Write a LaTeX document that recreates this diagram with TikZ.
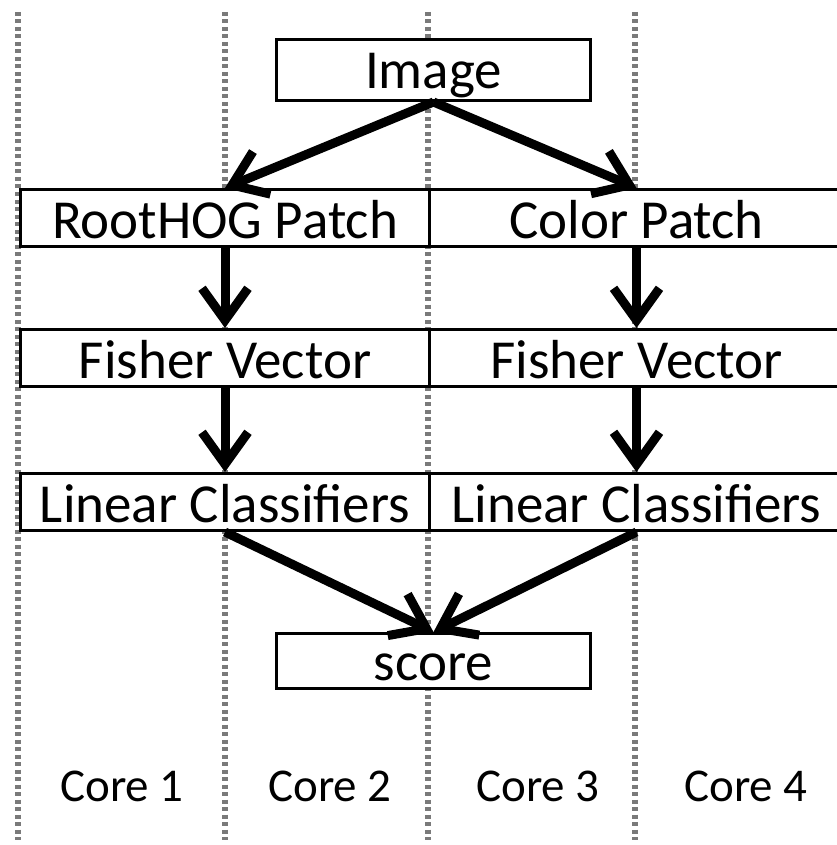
\documentclass[tikz,border=0pt]{standalone}
\usepackage{fontspec}
\setmainfont{Carlito}
\usetikzlibrary{arrows.meta}
\begin{document}
\begin{tikzpicture}[x=1pt,y=-1pt,
  stagebox/.style={draw=black, line width=3pt, fill=white, inner sep=0pt,
    minimum height=#1, anchor=north west},
  stagetext/.style={font=\fontsize{55}{66}\selectfont, inner sep=0pt, anchor=base},
  corelabel/.style={font=\fontsize{47}{56}\selectfont, inner sep=0pt, anchor=base},
  divider/.style={draw=black!52, line width=6.5pt, dash pattern=on 4pt off 3.5pt},
  flow/.style={draw=black, line width=9pt,
    -{Straight Barb[length=32pt, width=46pt, line width=9pt]}}]
\useasboundingbox (0,0) rectangle (836,845);
% core dividers
\foreach \x in {18,225,428,635}
  \draw[divider] (\x,12) -- (\x,840);
% stages
\node[stagebox=61pt, minimum width=314pt] (img) at (275,38) {};
\node[stagebox=57pt, minimum width=409pt] (rh) at (19,188) {};
\node[stagebox=57pt, minimum width=414pt] (cp) at (428,188) {};
\node[stagebox=57pt, minimum width=409pt] (fv1) at (19,328) {};
\node[stagebox=57pt, minimum width=414pt] (fv2) at (428,328) {};
\node[stagebox=57pt, minimum width=409pt] (lc1) at (19,472) {};
\node[stagebox=57pt, minimum width=414pt] (lc2) at (428,472) {};
\node[stagebox=55pt, minimum width=314pt] (score) at (275,632) {};
% stage captions, set on a baseline just above each box's lower edge
\node[stagetext] (timg) at ([yshift=13pt]img.south) {Image};
\foreach \n/\t in {rh/RootHOG Patch, cp/Color Patch, fv1/Fisher Vector,
                   fv2/Fisher Vector, lc1/Linear Classifiers, lc2/Linear Classifiers,
                   score/score}
  \node[stagetext] (t\n) at ([yshift=10pt]\n.south) {\t};
% data flow
\draw[flow] (img.south) -- (rh.north);
\draw[flow] (img.south) -- (cp.north);
\draw[flow] (rh.south) -- (fv1.north);
\draw[flow] (cp.south) -- (fv2.north);
\draw[flow] (fv1.south) -- (lc1.north);
\draw[flow] (fv2.south) -- (lc2.north);
\draw[flow] (lc1.south) -- (score.north);
\draw[flow] (lc2.south) -- (score.north);
% core labels
\node[corelabel] (c1) at (122,801) {Core 1};
\node[corelabel] (c2) at (330,801) {Core 2};
\node[corelabel] (c3) at (538,801) {Core 3};
\node[corelabel] (c4) at (746,801) {Core 4};
\end{tikzpicture}
\end{document}
